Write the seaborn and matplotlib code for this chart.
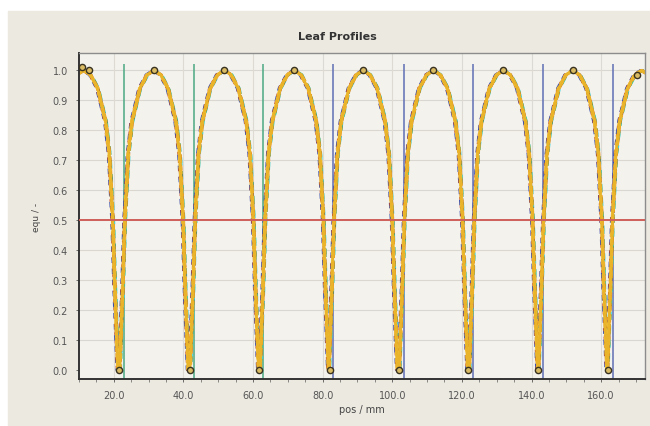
import numpy as np
import pandas as pd
import matplotlib
matplotlib.use("Agg")
import matplotlib.pyplot as plt
from matplotlib.patches import Rectangle
from matplotlib.ticker import MultipleLocator, FormatStrFormatter
import seaborn as sns

# =============================
# 1) DATA (read off the picture)
# =============================

# peak centres of each leaf gap (mm) and the dips between them
peak_pos = [11.3, 31.5, 51.7, 71.8, 91.6, 111.8, 131.9, 151.8, 171.6]
dip_pos = [21.4, 41.8, 61.8, 82.2, 102.0, 121.8, 141.9, 162.1]

# one arch, as seen in the picture: fraction of the half width from the peak -> value
arch_frac = [0.0, 0.2, 0.41, 0.64, 0.75, 0.85, 0.91, 0.95, 0.98, 1.0]
arch_val = [1.0, 0.985, 0.94, 0.83, 0.72, 0.50, 0.275, 0.15, 0.06, 0.0]

# overlaid leaf series: small x shifts, colours, dash styles
leaf_names = ["L1", "L2", "L3", "L4", "L5", "L6", "L7", "L8", "L9", "L10"]
leaf_shift = [-0.3, 0.3, 0.25, -0.2, 0.15, -0.1, 0.2, 0.05, -0.05, 0.0]
leaf_colors = ["#3b4da8", "#3fd4dc", "#5cc07e", "#c0462a", "#8a5a2c",
               "#d9821c", "#e89a22", "#f0b828", "#f7d24a", "#e9b42a"]
leaf_dashes = [(2, 2), (3, 2), (2, 3), (1, 2), (2, 1.5),
               (4, 1.5), (3, 1), (2, 1), (1.5, 1), ""]

# leaf edge markers
edge_green = [22.9, 43.0, 63.0]
edge_blue = [82.9, 103.5, 123.3, 143.3, 163.3]

# circle markers
peak_marks_x = [10.9, 13.0, 31.5, 51.7, 71.8, 91.6, 111.8, 131.9, 151.8, 170.3]
peak_marks_y = [1.01, 1.0, 1.0, 1.0, 1.0, 1.0, 1.0, 1.0, 1.0, 0.985]

xticks = [20, 40, 60, 80, 100, 120, 140, 160]

# =============================
# 2) BUILD LONG TABLE
# =============================

half_w = 9.85
rows = []
for name, sh in zip(leaf_names, leaf_shift):
    for p in peak_pos:
        for f, v in zip(arch_frac[::-1], arch_val[::-1]):
            rows.append((name, p + sh - f * half_w, v))
        for f, v in zip(arch_frac[1:], arch_val[1:]):
            rows.append((name, p + sh + f * half_w, v))
df = pd.DataFrame(rows, columns=["leaf", "pos", "equ"])

# =============================
# 3) PLOT
# =============================

sns.set_theme(style="white")
plt.rcParams["font.family"] = ["DejaVu Sans"]

fig = plt.figure(figsize=(6.5, 4.27), dpi=100)
fig.patch.set_facecolor("white")
fig.patches.append(Rectangle((8 / 650, 0.0), 1.0, 1 - 12 / 427,
                             transform=fig.transFigure, color="#ece9e1", zorder=-10))
ax = fig.add_axes([79 / 650, 1 - 380 / 427, (645 - 79) / 650, (380 - 54) / 427])
ax.set_facecolor("#f4f2ed")

ax.set_xlim(10, 172.6)
ax.set_ylim(-0.031, 1.058)

# grid
for yv in np.arange(0.1, 1.01, 0.1):
    ax.axhline(yv, color="#d9d7d0", lw=0.8, zorder=0)
for xv in xticks:
    ax.axvline(xv, color="#dcdad3", lw=0.8, zorder=0)

# leaf edges
ax.vlines(edge_green, -0.031, 1.02, colors="#58ad8a", lw=1.2, zorder=1)
ax.vlines(edge_blue, -0.031, 1.02, colors="#6a78b8", lw=1.2, zorder=1)

sns.lineplot(data=df, x="pos", y="equ", hue="leaf", style="leaf",
             hue_order=leaf_names, style_order=leaf_names,
             palette=dict(zip(leaf_names, leaf_colors)),
             dashes=dict(zip(leaf_names, leaf_dashes)),
             estimator=None, sort=False, lw=2.0, legend=False, ax=ax, zorder=2)

# 50 % line
ax.axhline(0.5, color="#cf5f5a", lw=1.4, zorder=3)

# circle markers
sns.scatterplot(x=peak_marks_x, y=peak_marks_y, ax=ax, s=20, color="#d8bb62",
                edgecolor="#3a3322", linewidth=1.0, zorder=4)
sns.scatterplot(x=dip_pos, y=[0.0] * len(dip_pos), ax=ax, s=20, color="#d8bb62",
                edgecolor="#3a3322", linewidth=1.0, zorder=4)

# axes styling
ax.set_xticks(xticks)
ax.xaxis.set_minor_locator(MultipleLocator(5))
ax.set_yticks(np.round(np.arange(0, 1.01, 0.1), 1))
ax.xaxis.set_major_formatter(FormatStrFormatter("%.1f"))
ax.yaxis.set_major_formatter(FormatStrFormatter("%.1f"))
ax.tick_params(axis="both", labelsize=7, labelcolor="#555555", colors="#555555",
               length=2, width=0.6, pad=6, direction="out")
ax.tick_params(axis="x", which="minor", length=2, width=0.6, colors="#777777",
               bottom=True)
ax.tick_params(bottom=True, left=True)

for side in ["left", "bottom"]:
    ax.spines[side].set_color("#333333")
    ax.spines[side].set_linewidth(1.4)
for side in ["top", "right"]:
    ax.spines[side].set_color("#8c8c8c")
    ax.spines[side].set_linewidth(1.0)

ax.set_xlabel("pos / mm", fontsize=7, color="#444444", labelpad=3)
ax.set_ylabel("equ / -", fontsize=6.5, color="#444444", labelpad=8)
fig.text(337 / 650, 1 - 37 / 427, "Leaf Profiles", ha="center", va="center",
         fontsize=8, fontweight="bold", color="#333333")

fig.savefig("out.png", dpi=100, facecolor=fig.get_facecolor())
plt.close(fig)
